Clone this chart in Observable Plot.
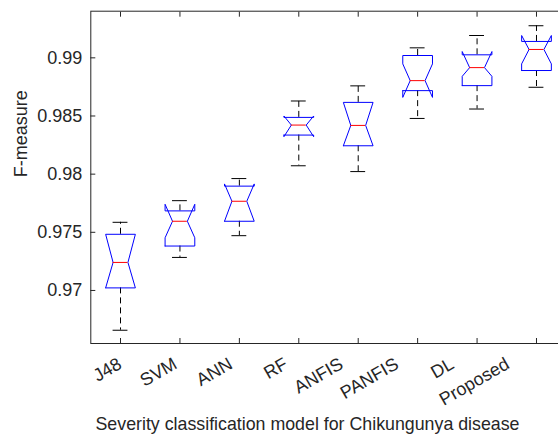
<!DOCTYPE html>
<html><head><meta charset="utf-8">
<script src="https://cdn.jsdelivr.net/npm/d3@7"></script>
<script src="https://cdn.jsdelivr.net/npm/@observablehq/plot@0.6"></script>
<style>
html,body{margin:0;padding:0;background:#fff;}
#chart{width:558px;height:436px;overflow:hidden;}
</style></head><body><div id="chart"></div>
<script>
const categories = ["J48","SVM","ANN","RF","ANFIS","PANFIS","DL","Proposed"];
const upperWhisker = [0.97586,0.97772,0.97962,0.98629,0.98759,0.99086,0.99192,0.99276];
const notchHigh    = [0.97483,0.97741,0.97916,0.98500,0.98617,0.98948,0.99054,0.99192];
const q3           = [0.97483,0.97684,0.97897,0.98488,0.98617,0.99020,0.99026,0.99141];
const median       = [0.97241,0.97595,0.97767,0.98422,0.98419,0.98804,0.98916,0.99072];
const q1           = [0.97022,0.97382,0.97595,0.98336,0.98244,0.98718,0.98761,0.98891];
const notchLow     = [0.97022,0.97453,0.97595,0.98322,0.98244,0.98660,0.98841,0.98948];
const lowerWhisker = [0.96658,0.97284,0.97471,0.98072,0.98022,0.98479,0.98560,0.98747];
const yTicks = [0.97,0.975,0.98,0.985,0.99];
const xLabel = "Severity classification model for Chikungunya disease";
const yLabel = "F-measure";

const hw = 0.25, nw = 0.125, cw = 0.125;
const labelSpacing = 0.932; // tick labels are slightly compressed toward the left in the reference
const stats = categories.map((c,i)=>({c, x:i+1, up:upperWhisker[i], nhi:notchHigh[i], q3:q3[i], med:median[i], q1:q1[i], nlo:notchLow[i], lo:lowerWhisker[i]}));
const boxPts = stats.flatMap(s => [
  [-hw,s.q1],[-hw,s.nlo],[-nw,s.med],[-hw,s.nhi],[-hw,s.q3],
  [hw,s.q3],[hw,s.nhi],[nw,s.med],[hw,s.nlo],[hw,s.q1],[-hw,s.q1]
].map(([o,y])=>({c:s.c, x:s.x+o, y})));

const font = "'Liberation Sans', Arial, Helvetica, sans-serif";
const ink = "#262626";
const chart = Plot.plot({
  width: 558, height: 436,
  marginLeft: 90.3, marginRight: -7.7, marginTop: 10.7, marginBottom: 93,
  style: {fontFamily: font, fontSize: "18px", color: ink, background: "#fff"},
  x: {type: "linear", domain: [0.5, 8.5], axis: null},
  y: {domain: [0.96544, 0.99401], axis: null},
  marks: [
    Plot.frame({stroke: ink, strokeWidth: 1}),
    Plot.axisY(yTicks, {tickSize: 5, dx: 5, tickFormat: () => "", label: null, stroke: ink}),
    Plot.axisY(yTicks, {tickSize: 0, tickPadding: 8.6, tickFormat: d => String(d), label: null, fontSize: 18, fill: ink}),
    Plot.axisX(stats.map(s=>s.x), {anchor: "bottom", tickSize: 5, dy: -5, tickFormat: () => "", label: null, stroke: ink}),
    Plot.axisX(stats.map(s=>s.x), {anchor: "top", tickSize: 5, dy: 5, tickFormat: () => "", label: null, stroke: ink}),
    Plot.text(stats, {x: d => 1 + (d.x - 1) * labelSpacing, text: "c", frameAnchor: "bottom", textAnchor: "end", lineAnchor: "top", rotate: -30, dx: -4, dy: 13, fontSize: 18, fill: ink}),
    Plot.text([xLabel], {frameAnchor: "bottom", text: d => d, dy: 81, dx: -21, lineAnchor: "middle", fontSize: 17.8, fill: ink}),
    Plot.text([yLabel], {frameAnchor: "left", text: d => d, rotate: -90, dx: -70, lineAnchor: "middle", fontSize: 18, fill: ink}),
    Plot.ruleX(stats, {x: "x", y1: "q3", y2: "up", stroke: "#000", strokeWidth: 1, strokeDasharray: "6,4"}),
    Plot.ruleX(stats, {x: "x", y1: "q1", y2: "lo", stroke: "#000", strokeWidth: 1, strokeDasharray: "6,4"}),
    Plot.ruleY(stats, {y: "up", x1: d => d.x - cw, x2: d => d.x + cw, stroke: "#000", strokeWidth: 1}),
    Plot.ruleY(stats, {y: "lo", x1: d => d.x - cw, x2: d => d.x + cw, stroke: "#000", strokeWidth: 1}),
    Plot.line(boxPts, {x: "x", y: "y", z: "c", stroke: "#0000ff", strokeWidth: 1}),
    Plot.ruleY(stats, {y: "med", x1: d => d.x - nw, x2: d => d.x + nw, stroke: "#ff0000", strokeWidth: 1})
  ]
});
document.getElementById("chart").appendChild(chart);
</script></body></html>
